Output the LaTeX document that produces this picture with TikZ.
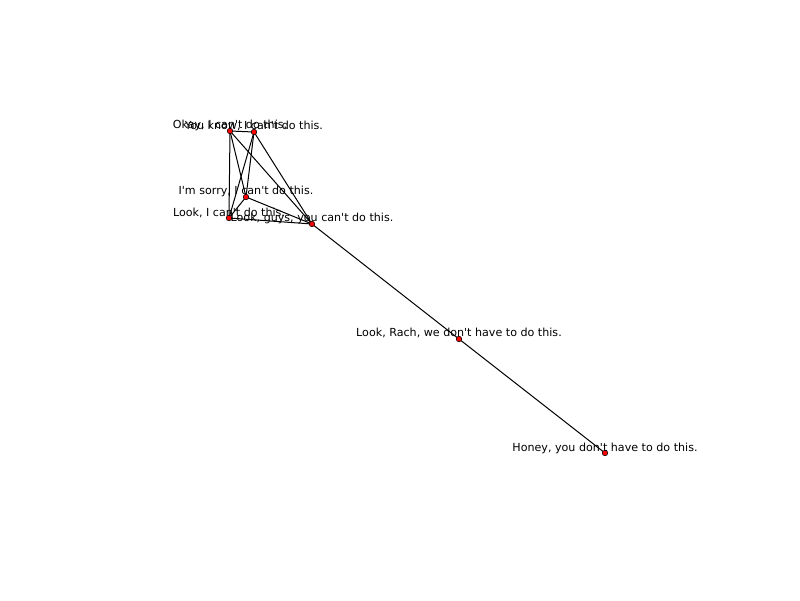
\documentclass[tikz,border=0pt]{standalone}
\usepackage{fontspec}
\setmainfont{DejaVu Sans}
\usepackage{tikz}
\usetikzlibrary{positioning}
\usepackage{xcolor}
\pgfdeclarelayer{edges}
\pgfsetlayers{edges,main}
\newcommand{\aq}{\textquotesingle}

\begin{document}
\begin{tikzpicture}[x=0.72pt,y=-0.72pt,
	vtx/.style={draw=black,circle,fill=red,inner sep=0pt,minimum size=4pt,line width=0.4pt},
	lbl/.style={inner sep=0pt,font=\fontsize{8}{9}\selectfont},
	edge/.style={line width=0.72pt}]
	\useasboundingbox (0,0) rectangle (800,600);
	% vertices
	\node[vtx] (okay) at (230,131) {};
	\node[vtx] (know) at (254,132) {};
	\node[vtx] (sorry) at (246,197) {};
	\node[vtx] (look) at (229,218) {};
	\node[vtx] (guys) at (312,224) {};
	\node[vtx] (rach) at (459,339) {};
	\node[vtx] (honey) at (605,453) {};
	% edges
	\begin{pgfonlayer}{edges}
	\draw[edge] (okay.center) -- (know.center);
	\draw[edge] (okay.center) -- (sorry.center);
	\draw[edge] (okay.center) -- (look.center);
	\draw[edge] (okay.center) -- (guys.center);
	\draw[edge] (know.center) -- (sorry.center);
	\draw[edge] (know.center) -- (look.center);
	\draw[edge] (know.center) -- (guys.center);
	\draw[edge] (sorry.center) -- (look.center);
	\draw[edge] (sorry.center) -- (guys.center);
	\draw[edge] (look.center) -- (guys.center);
	\draw[edge] (guys.center) -- (rach.center);
	\draw[edge] (rach.center) -- (honey.center);
	\end{pgfonlayer}
	% labels
	\node[lbl] (okaytxt) at (230,125) {Okay, I can\aq t do this.};
	\node[lbl] (knowtxt) at (254,126) {You know, I can\aq t do this.};
	\node[lbl] (sorrytxt) at (246,191) {I\aq m sorry, I can\aq t do this.};
	\node[lbl] (looktxt) at (229,213) {Look, I can\aq t do this.};
	\node[lbl] (guystxt) at (312,218) {Look, guys, you can\aq t do this.};
	\node[lbl] (rachtxt) at (459,333) {Look, Rach, we don\aq t have to do this.};
	\node[lbl] (honeytxt) at (605,448) {Honey, you don\aq t have to do this.};
\end{tikzpicture}
\end{document}
